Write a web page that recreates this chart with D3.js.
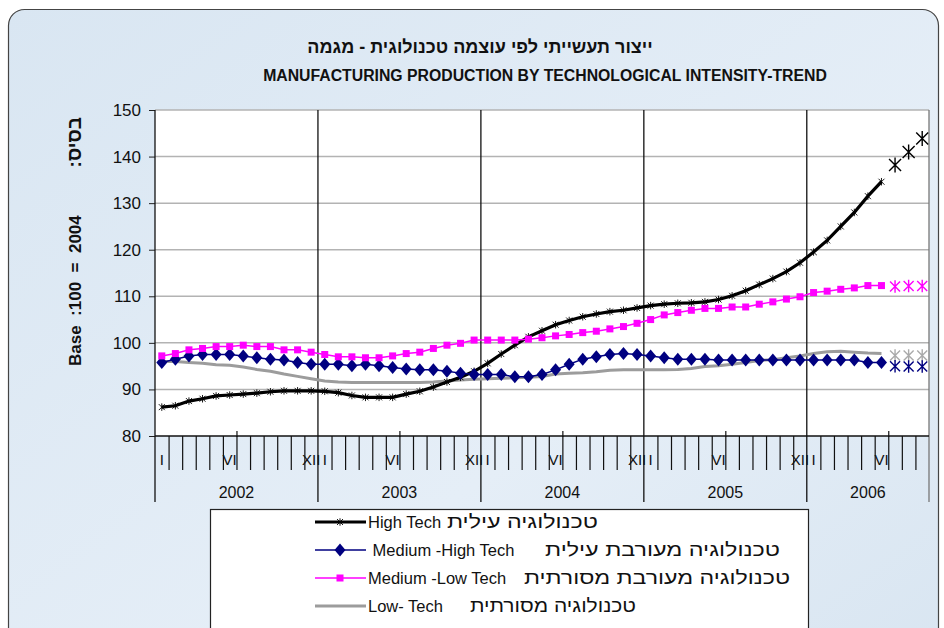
<!DOCTYPE html>
<html><head><meta charset="utf-8">
<script src="https://cdn.jsdelivr.net/npm/d3@7"></script>
<style>
body{margin:0;background:#fff}
svg{display:block}
text{font-family:"Liberation Sans",Arial,sans-serif;fill:#111;white-space:pre}
</style>
</head><body>
<svg id="chart" width="944" height="628"></svg>
<script>
// ---------- data ----------
const years = ["2002","2003","2004","2005","2006"];
const monthsInYear = [12,12,12,12,9];
const monthTickLabels = {1:"I",6:"VI",12:"XII"};
const yTicks = [80,90,100,110,120,130,140,150];

const highTech = [86.2,86.5,87.5,88.0,88.6,88.8,89.0,89.2,89.5,89.7,89.7,89.7,
  89.6,89.3,88.7,88.3,88.3,88.3,89.0,89.6,90.5,91.6,92.6,93.9,
  95.6,97.6,99.5,101.3,102.6,103.9,104.8,105.6,106.2,106.7,107.0,107.5,
  108.0,108.3,108.5,108.6,108.8,109.3,110.1,111.2,112.5,113.8,115.3,117.2,
  119.5,122.0,125.0,128.0,131.5,134.6];
const mediumHigh = [95.8,96.5,97.2,97.5,97.5,97.5,97.2,96.8,96.5,96.3,95.8,95.4,
  95.4,95.4,95.1,95.4,95.1,94.7,94.4,94.2,94.2,93.9,93.5,93.2,
  93.2,93.2,92.7,92.7,93.2,94.2,95.4,96.5,97.0,97.5,97.7,97.5,
  97.2,96.8,96.5,96.5,96.5,96.3,96.3,96.3,96.3,96.3,96.3,96.3,
  96.3,96.3,96.3,96.3,95.8,95.8];
const mediumLow = [97.2,97.7,98.5,98.8,99.2,99.2,99.5,99.2,99.2,98.5,98.5,98.0,
  97.5,97.0,97.0,96.8,96.8,97.2,97.7,98.0,98.8,99.5,99.9,100.6,
  100.6,100.6,100.6,100.8,101.1,101.5,101.8,102.2,102.5,103.0,103.5,104.2,
  105.0,106.0,106.5,107.0,107.4,107.4,107.7,107.7,108.3,108.8,109.4,109.9,
  110.8,111.1,111.5,111.8,112.3,112.3];
const lowTech = [96.0,96.0,95.8,95.6,95.3,95.2,94.8,94.3,93.9,93.3,92.8,92.3,
  91.8,91.6,91.5,91.5,91.5,91.5,91.5,91.5,91.6,91.8,92.0,92.2,
  92.3,92.4,92.5,92.6,92.8,93.3,93.5,93.6,93.8,94.1,94.2,94.2,
  94.2,94.2,94.3,94.5,94.9,95.1,95.4,95.8,96.2,96.4,96.8,97.2,
  97.7,98.1,98.2,98.0,97.8,97.7];
// forecast points (Jul-Sep 2006)
const highTechF = [138.2,141.0,143.9];
const mediumHighF = [95.0,94.9,94.9];
const mediumLowF = [112.1,112.2,112.2];
const lowTechF = [97.3,97.3,97.3];

const titleHe = "ייצור תעשייתי לפי עוצמה טכנולוגית - מגמה";
const titleEn = "MANUFACTURING PRODUCTION BY TECHNOLOGICAL INTENSITY-TREND";
const yLabelEn = "Base :100 = 2004";
const yLabelHe = ":בסיס";
const legendEn = ["High Tech", " Medium -High Tech", "Medium -Low Tech", "Low- Tech"];
const legendHe = ["טכנולוגיה עילית", "טכנולוגיה מעורבת עילית", "טכנולוגיה מעורבת מסורתית", "טכנולוגיה מסורתית"];

// ---------- build ----------
const categories = [];
years.forEach((yr,i)=>{for(let m=1;m<=monthsInYear[i];m++)categories.push(yr+"-"+m);});

const svg = d3.select("#chart");
const defs = svg.append("defs");
const grad = defs.append("linearGradient").attr("id","bg").attr("x1","0").attr("y1","0").attr("x2","1").attr("y2","1");
grad.append("stop").attr("offset","0").attr("stop-color","#d9e6f2");
grad.append("stop").attr("offset","0.6").attr("stop-color","#e5eef7");
grad.append("stop").attr("offset","1").attr("stop-color","#d8e5f1");

svg.append("rect").attr("x",8.5).attr("y",9.5).attr("width",930).attr("height",680)
  .attr("rx",16).attr("fill","url(#bg)").attr("stroke","#444").attr("stroke-width",1.2);

const L=155, R=929, T=110, B=436;
const x = d3.scaleBand().domain(categories).range([L,R]).padding(0);
const xm = d3.scaleLinear().domain([0,categories.length]).range([L,R]);
const y = d3.scaleLinear().domain([80,150]).range([B,T]);
const bw = x.bandwidth();
const cx = i => x(categories[i]) + bw/2;

// plot area
svg.append("rect").attr("x",L).attr("y",T).attr("width",R-L).attr("height",B-T).attr("fill","#fff");

// gridlines
svg.append("g").selectAll("line").data(yTicks.filter(v=>v>80)).join("line")
  .attr("x1",L).attr("x2",R).attr("y1",d=>y(d)).attr("y2",d=>y(d))
  .attr("stroke","#b3b3b3").attr("stroke-width",1.5);

// y axis
const yAxis = svg.append("g").attr("transform",`translate(${L},0)`)
  .call(d3.axisLeft(y).tickValues(yTicks).tickSize(6).tickPadding(8).tickFormat(d3.format("d")));
yAxis.select(".domain").remove();
yAxis.selectAll("line").attr("stroke","#222");
yAxis.selectAll("text").attr("font-size",17).attr("fill","#222").style("font-family","Liberation Sans, Arial, sans-serif");

// year boundaries
const yearStarts = [];
let acc=0; years.forEach((yr,i)=>{yearStarts.push(acc); acc+=monthsInYear[i];});
const boundaryX = yearStarts.map(s=>xm(s)).concat([R]);
const monthTicks = d3.range(1,categories.length).filter(i=>yearStarts.indexOf(i)<0);
const halfTicks = monthTicks.filter(i=>categories[i].endsWith("-7"));

// month ticks via axis
const xAxisG = svg.append("g").attr("transform",`translate(0,${B})`)
  .call(d3.axisBottom(xm).tickValues(monthTicks).tickSize(34).tickFormat(""));
xAxisG.select(".domain").remove();
xAxisG.selectAll("line").attr("stroke","#111").attr("stroke-width",1.2);
const xAxisG2 = svg.append("g").attr("transform",`translate(0,${B-5})`)
  .call(d3.axisBottom(xm).tickValues(halfTicks).tickSize(6).tickFormat(""));
xAxisG2.select(".domain").remove();
xAxisG2.selectAll("line").attr("stroke","#111").attr("stroke-width",1.2);

svg.append("g").selectAll("line").data(boundaryX).join("line")
  .attr("x1",d=>d).attr("x2",d=>d).attr("y1",T).attr("y2",502)
  .attr("stroke",(d,i)=> i===boundaryX.length-1 ? "#777" : "#111").attr("stroke-width",1.3);
svg.append("line").attr("x1",L).attr("x2",R).attr("y1",B).attr("y2",B).attr("stroke","#111").attr("stroke-width",1.3);

// month labels
svg.append("g").selectAll("text").data(categories.map((c,i)=>({c,i,m:+c.split("-")[1]})).filter(d=>monthTickLabels[d.m]))
  .join("text").attr("x",d=>cx(d.i)).attr("y",465).attr("text-anchor","middle")
  .attr("font-size",15).text(d=>monthTickLabels[d.m]);

// year labels
svg.append("g").selectAll("text").data(years).join("text")
  .attr("x",(d,i)=>(boundaryX[i]+boundaryX[i+1])/2).attr("y",498).attr("text-anchor","middle")
  .attr("font-size",16).text(d=>d);

// series
const lineGen = d3.line().x((d,i)=>cx(i)).y(d=>y(d));
const starPath = r => `M${-r},${-r}L${r},${r}M${-r},${r}L${r},${-r}M0,${-r*1.25}L0,${r*1.25}`;
const diamond = "M0,-6.5L5.5,0L0,6.5L-5.5,0Z";

svg.append("path").datum(lowTech).attr("d",lineGen).attr("fill","none").attr("stroke","#9c9c9c").attr("stroke-width",3);
svg.append("path").datum(highTech).attr("d",lineGen).attr("fill","none").attr("stroke","#000").attr("stroke-width",3.2);
svg.append("g").selectAll("path").data(highTech).join("path")
  .attr("transform",(d,i)=>`translate(${cx(i)},${y(d)})`).attr("d",starPath(3))
  .attr("stroke","#000").attr("stroke-width",0.9).attr("fill","none");
svg.append("path").datum(mediumHigh).attr("d",lineGen).attr("fill","none").attr("stroke","#000080").attr("stroke-width",1.5);
svg.append("g").selectAll("path").data(mediumHigh).join("path")
  .attr("transform",(d,i)=>`translate(${cx(i)},${y(d)})`).attr("d",diamond).attr("fill","#000080");
svg.append("path").datum(mediumLow).attr("d",lineGen).attr("fill","none").attr("stroke","#ff00ff").attr("stroke-width",1.5);
svg.append("g").selectAll("rect").data(mediumLow).join("rect")
  .attr("x",(d,i)=>cx(i)-3.5).attr("y",d=>y(d)-3.5).attr("width",7).attr("height",7).attr("fill","#ff00ff");

// forecasts
const nData = highTech.length;
[[highTechF,"#000",6],[mediumLowF,"#ff00ff",5],[lowTechF,"#aaa",5],[mediumHighF,"#000080",5]].forEach(([arr,col,r])=>{
  svg.append("g").selectAll("path").data(arr).join("path")
    .attr("transform",(d,i)=>`translate(${cx(nData+i)},${y(d)})`).attr("d",starPath(r))
    .attr("stroke",col).attr("stroke-width",1.4).attr("fill","none");
});

// titles
svg.append("text").attr("x",480).attr("y",53).attr("text-anchor","middle").attr("font-size",18)
  .attr("font-weight","bold").text(titleHe);
svg.append("text").attr("x",545).attr("y",81).attr("text-anchor","middle").attr("font-size",15.8)
  .attr("font-weight","bold").text(titleEn);

// y label (rotated)
const yl = svg.append("g").attr("transform","translate(81,0) rotate(-90)");
yl.append("text").attr("x",-366).attr("y",0).attr("text-anchor","start").attr("font-size",17)
  .attr("font-weight","bold").text(yLabelEn.replace(/ /g,"  "));
yl.append("text").attr("x",-117).attr("y",0).attr("text-anchor","end").attr("font-size",19)
  .attr("font-weight","bold").text(yLabelHe);

// legend
svg.append("rect").attr("x",210.5).attr("y",509.5).attr("width",598).attr("height",140)
  .attr("fill","#fff").attr("stroke","#222").attr("stroke-width",1.2);
const legStyle = [
  {col:"#000", w:3, mk:"star", he:447, hw:151},
  {col:"#000080", w:1.5, mk:"diamond", he:545, hw:235},
  {col:"#ff00ff", w:1.5, mk:"square", he:524, hw:266},
  {col:"#9c9c9c", w:3, mk:null, he:470, hw:166}
];
const lg = svg.append("g");
legStyle.forEach((r,i)=>{
  const yy = 522 + i*28;
  lg.append("line").attr("x1",315).attr("x2",366).attr("y1",yy).attr("y2",yy).attr("stroke",r.col).attr("stroke-width",r.w);
  if(r.mk==="star") lg.append("path").attr("transform",`translate(340,${yy})`).attr("d",starPath(3)).attr("stroke","#000").attr("stroke-width",0.9).attr("fill","none");
  if(r.mk==="diamond") lg.append("path").attr("transform",`translate(340,${yy})`).attr("d",diamond).attr("fill","#000080");
  if(r.mk==="square") lg.append("rect").attr("x",336.5).attr("y",yy-3.5).attr("width",7).attr("height",7).attr("fill","#ff00ff");
  lg.append("text").attr("x",368).attr("y",yy+6).attr("font-size",16.5).text(legendEn[i]);
  lg.append("text").attr("x",r.he).attr("y",yy+6).attr("font-size",19)
    .attr("textLength",r.hw).attr("lengthAdjust","spacingAndGlyphs").text(legendHe[i]);
});
</script>
</body></html>
